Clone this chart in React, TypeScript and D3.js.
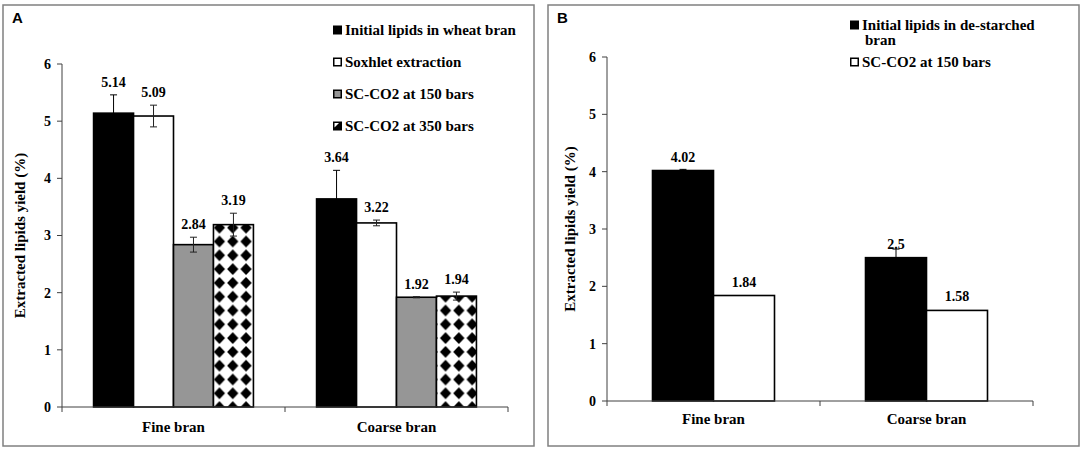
// @ts-nocheck
import * as d3 from 'd3';
import React from 'react';

// ---- data ----
const categories = ['Fine bran', 'Coarse bran'];
const yTicks = [0, 1, 2, 3, 4, 5, 6];

const seriesA = [
  'Initial lipids in wheat bran',
  'Soxhlet extraction',
  'SC-CO2 at 150 bars',
  'SC-CO2 at 350 bars',
];
const valuesA = [
  [5.14, 3.64],
  [5.09, 3.22],
  [2.84, 1.92],
  [3.19, 1.94],
];
const errorsA = [
  [0.32, 0.5],
  [0.19, 0.05],
  [0.13, 0.01],
  [0.2, 0.07],
];

const seriesB = ['Initial lipids in de-starched bran', 'SC-CO2 at 150 bars'];
const valuesB = [
  [4.02, 2.5],
  [1.84, 1.58],
];
const errorsB = [
  [0.02, 0.15],
  [0, 0],
];

const SERIF = '"Liberation Serif", "Times New Roman", serif';
const SANS = '"Liberation Sans", Arial, sans-serif';
const AXIS = '#404040';

// split a legend label into lines of at most maxChars
function wrap(text, maxChars) {
  const lines = [];
  let cur = '';
  text.split(' ').forEach(w => {
    const next = cur ? cur + ' ' + w : w;
    if (next.length > maxChars && cur) {
      lines.push(cur);
      cur = w;
    } else cur = next;
  });
  if (cur) lines.push(cur);
  return lines;
}

function Marker({ x, y, kind }) {
  if (kind === 'half') {
    return (
      <g>
        <rect x={x} y={y - 4.5} width={9} height={9} fill="#000" />
        <path d={`M${x + 1.5},${y - 3} L${x + 6},${y - 3} L${x + 1.5},${y + 1.5} Z`} fill="#fff" />
      </g>
    );
  }
  return (
    <rect
      x={x + 0.75}
      y={y - 3.75}
      width={7.5}
      height={7.5}
      fill={kind}
      stroke="#000"
      strokeWidth={1.5}
    />
  );
}

function Panel({ letter, box, plot, series, values, errors, fills, groupPad, legend, labelFromErr }) {
  const y = d3.scaleLinear().domain([0, 6]).range([plot.y0, plot.y6]);
  const x0 = d3.scaleBand().domain(categories).range([plot.left, plot.right]).padding(0);
  const x1 = d3
    .scaleBand()
    .domain(d3.range(series.length))
    .range([0, x0.bandwidth()])
    .paddingInner(0)
    .paddingOuter(groupPad);

  const catEdges = [plot.left, ...categories.map(c => x0(c) + x0.bandwidth())];

  // legend rows
  let ly = legend.y;
  const legendRows = series.map((s, i) => {
    const lines = wrap(s, legend.maxChars);
    const row = { i, lines, y: ly };
    ly += (lines.length - 1) * legend.lineH + legend.gap;
    return row;
  });

  return (
    <g>
      <rect x={box.x} y={box.y} width={box.w} height={box.h} fill="#fff" stroke="#808080" strokeWidth={1.5} />
      <text x={box.x + 9} y={box.y + 18} fontFamily={SANS} fontWeight="bold" fontSize={15} fill="#000">
        {letter}
      </text>

      {/* y axis */}
      <line x1={plot.left} x2={plot.left} y1={y(0)} y2={y(6)} stroke={AXIS} strokeWidth={1} />
      {yTicks.map(t => (
        <g key={t}>
          <line x1={plot.left - 5} x2={plot.left} y1={y(t)} y2={y(t)} stroke={AXIS} strokeWidth={1} />
          <text
            x={plot.left - 11}
            y={y(t)}
            dy="0.35em"
            textAnchor="end"
            fontFamily={SERIF}
            fontWeight="bold"
            fontSize={14}
          >
            {t}
          </text>
        </g>
      ))}
      <text
        transform={`translate(${plot.titleX},${(y(0) + y(6)) / 2}) rotate(-90)`}
        textAnchor="middle"
        dy="0.35em"
        fontFamily={SERIF}
        fontWeight="bold"
        fontSize={15}
      >
        Extracted lipids yield (%)
      </text>

      {/* bars */}
      {series.map((s, si) =>
        categories.map((c, ci) => {
          const v = values[si][ci];
          const e = errors[si][ci];
          const bx = x0(c) + x1(si);
          const bw = x1.bandwidth();
          const cx = bx + bw / 2;
          const top = y(v);
          const errTop = y(v + e);
          const labelY = labelFromErr ? errTop - 8 : top - 9;
          return (
            <g key={`${si}-${ci}`}>
              <rect
                x={bx}
                y={top}
                width={bw}
                height={y(0) - top}
                fill={fills[si]}
                stroke="#000"
                strokeWidth={1.6}
              />
              {e > 0 && (
                <g stroke={fills[si] === '#000' ? '#000' : '#222'} strokeWidth={1}>
                  <line x1={cx} x2={cx} y1={y(v - e)} y2={errTop} />
                  <line x1={cx - 3.5} x2={cx + 3.5} y1={errTop} y2={errTop} />
                  <line x1={cx - 3.5} x2={cx + 3.5} y1={y(v - e)} y2={y(v - e)} />
                </g>
              )}
              <text x={cx} y={labelY} textAnchor="middle" fontFamily={SERIF} fontWeight="bold" fontSize={14}>
                {String(v)}
              </text>
            </g>
          );
        })
      )}

      {/* x axis */}
      <line x1={plot.left} x2={plot.right} y1={y(0)} y2={y(0)} stroke={AXIS} strokeWidth={1} />
      {catEdges.map((xe, i) => (
        <line key={i} x1={xe} x2={xe} y1={y(0)} y2={y(0) + 5} stroke={AXIS} strokeWidth={1} />
      ))}
      {categories.map(c => (
        <text
          key={c}
          x={x0(c) + x0.bandwidth() / 2}
          y={plot.catY}
          textAnchor="middle"
          fontFamily={SERIF}
          fontWeight="bold"
          fontSize={15}
        >
          {c}
        </text>
      ))}

      {/* legend */}
      {legendRows.map(r => (
        <g key={r.i}>
          <Marker x={legend.x} y={r.y} kind={legend.markers ? legend.markers[r.i] : fills[r.i]} />
          {r.lines.map((ln, li) => (
            <text
              key={li}
              x={legend.x + 12 + (li > 0 ? 3 : 0)}
              y={r.y + li * legend.lineH}
              dy="0.35em"
              fontFamily={SERIF}
              fontWeight="bold"
              fontSize={15}
            >
              {ln}
            </text>
          ))}
        </g>
      ))}
    </g>
  );
}

export default function App() {
  return (
    <svg
      width={1084}
      height={449}
      viewBox="0 0 1084 449"
      style={{ position: 'absolute', left: 0, top: 0, background: '#fff' }}
    >
      <defs>
        <pattern id="checker" patternUnits="userSpaceOnUse" width={13.3} height={13.8} x={0} y={0}>
          <rect width={13.3} height={13.8} fill="#fff" />
          <polygon points="6.65,1 12.3,6.9 6.65,12.8 1,6.9" fill="#000" />
        </pattern>
      </defs>

      <Panel
        letter="A"
        box={{ x: 3, y: 5, w: 531, h: 441 }}
        plot={{ left: 62, right: 508, y0: 407, y6: 64, titleX: 20, catY: 432 }}
        series={seriesA}
        values={valuesA}
        errors={errorsA}
        fills={['#000', '#fff', '#969696', 'url(#checker)']}
        groupPad={0.79}
        labelFromErr={true}
        legend={{
          x: 333,
          y: 30,
          lineH: 15,
          gap: 32,
          maxChars: 40,
          markers: ['#000', '#fff', '#969696', 'half'],
        }}
      />

      <Panel
        letter="B"
        box={{ x: 548, y: 5, w: 531, h: 441 }}
        plot={{ left: 607, right: 1033, y0: 401, y6: 57, titleX: 570, catY: 424 }}
        series={seriesB}
        values={valuesB}
        errors={errorsB}
        fills={['#000', '#fff']}
        groupPad={0.746}
        labelFromErr={false}
        legend={{ x: 850, y: 25, lineH: 15, gap: 22, maxChars: 29 }}
      />
    </svg>
  );
}
